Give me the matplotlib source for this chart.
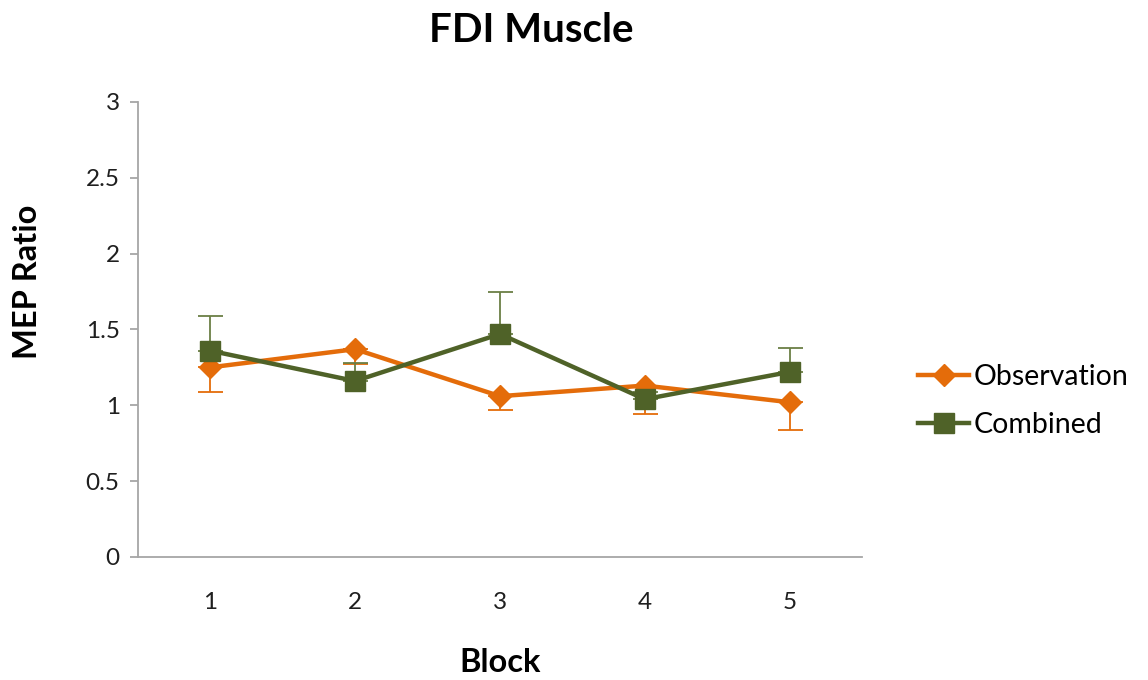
import matplotlib.pyplot as plt

plt.rcParams['font.family'] = ['Lato', 'DejaVu Sans']

blocks = [1, 2, 3, 4, 5]
observation = [1.25, 1.37, 1.06, 1.13, 1.02]
observation_err = [0.16, 0.10, 0.09, 0.19, 0.18]
combined = [1.36, 1.16, 1.47, 1.04, 1.22]
combined_err = [0.23, 0.12, 0.28, 0.05, 0.16]

orange = '#E46C0A'
green = '#4F6228'

fig = plt.figure(figsize=(11.48, 6.8), dpi=100)
ax = fig.add_axes([0.120, 0.181, 0.631, 0.669])

# one-sided error bars, as in the original
zeros = [0] * len(blocks)
ax.errorbar(blocks, observation, yerr=[observation_err, zeros], fmt='none',
            ecolor=orange, elinewidth=1.3, capsize=9, capthick=1.3, zorder=2)
ax.errorbar(blocks, combined, yerr=[zeros, combined_err], fmt='none',
            ecolor='#6B7F45', elinewidth=1.3, capsize=9, capthick=1.3, zorder=2)

ax.plot(blocks, observation, color=orange, lw=3.2, marker='D', markersize=11,
        label='Observation', zorder=3)
ax.plot(blocks, combined, color=green, lw=3.2, marker='s', markersize=14,
        label='Combined', zorder=4)

ax.set_xlim(0.5, 5.5)
ax.set_ylim(0, 3)
ax.set_xticks(blocks)
ax.set_yticks([0, 0.5, 1, 1.5, 2, 2.5, 3])
ax.set_yticklabels(['0', '0.5', '1', '1.5', '2', '2.5', '3'])

for s in ['top', 'right']:
    ax.spines[s].set_visible(False)
for s in ['left', 'bottom']:
    ax.spines[s].set_color('#A6A6A6')
    ax.spines[s].set_linewidth(1.3)
ax.tick_params(axis='y', length=6, width=1.3, color='#A6A6A6', labelsize=17.5,
               labelcolor='#1F1F1F', pad=7)
ax.tick_params(axis='x', length=0, labelsize=17.5, labelcolor='#1F1F1F', pad=25)

fig.text(0.463, 1 - 30 / 680, 'FDI Muscle', fontsize=29, fontweight='bold',
         ha='center', va='center')
fig.text(500 / 1148, 1 - 662 / 680, 'Block', fontsize=23.5, fontweight='bold',
         ha='center', va='center')
fig.text(28 / 1148, 1 - 282 / 680, 'MEP Ratio', fontsize=23.5, fontweight='bold',
         ha='center', va='center', rotation=90)

ax.legend(loc='center left', bbox_to_anchor=(918 / 1148, 1 - 401 / 680),
          bbox_transform=fig.transFigure, borderaxespad=0, borderpad=0,
          frameon=False, fontsize=20.5, handlelength=1.8, handletextpad=0.15,
          labelspacing=0.8)

fig.savefig('out.png', dpi=100)
